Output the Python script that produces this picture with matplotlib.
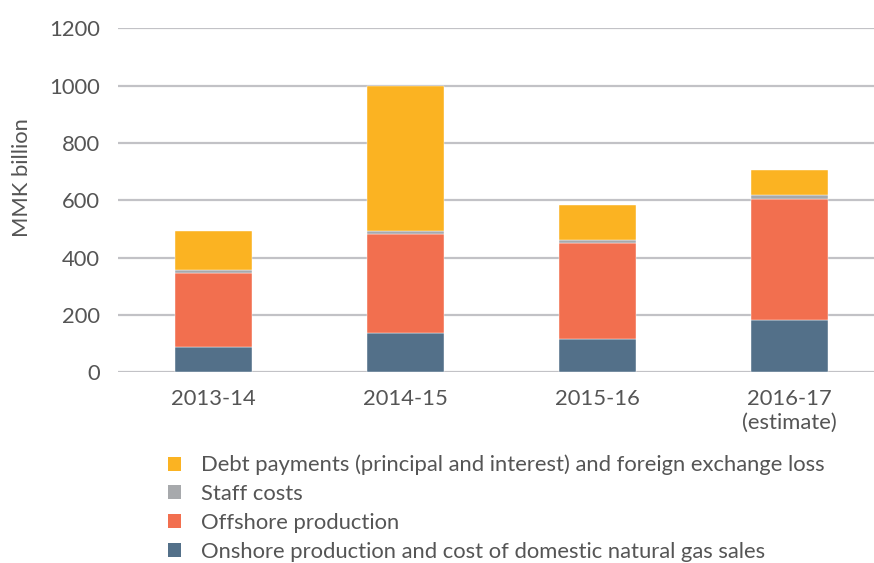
import matplotlib
matplotlib.use("Agg")
import matplotlib.pyplot as plt
from matplotlib.patches import Patch

plt.rcParams['font.family'] = ['Lato', 'DejaVu Sans']

years = ["2013-14", "2014-15", "2015-16", "2016-17\n(estimate)"]
onshore = [88, 138, 116, 182]
offshore = [260, 346, 334, 422]
staff = [9, 8, 13, 14]
debt = [135, 508, 121, 86]

series_names = [
    "Onshore production and cost of domestic natural gas sales",
    "Offshore production",
    "Staff costs",
    "Debt payments (principal and interest) and foreign exchange loss",
]
series_colors = ["#537089", "#F26F4F", "#A7A9AC", "#FBB322"]
text_color = "#555555"
fs = 15.8

fig = plt.figure(figsize=(8.74, 5.63), dpi=100)
ax = fig.add_axes([0.135, 0.3384, 0.865, 0.6116])

x = list(range(len(years)))
bottom = [0] * len(years)
for vals, color in zip([onshore, offshore, staff, debt], series_colors):
    ax.bar(x, vals, width=0.4, bottom=bottom, color=color,
           edgecolor="white", linewidth=0.3, zorder=3)
    bottom = [b + v for b, v in zip(bottom, vals)]

ax.set_xlim(-0.495, 3.44)
ax.set_ylim(0, 1200)
ax.set_yticks(range(0, 1201, 200))
ax.set_xticks(x)
ax.set_xticklabels(years, linespacing=1.25)
ax.yaxis.grid(True, color="#C2C2C6", linewidth=1.6, zorder=0)
ax.set_axisbelow(True)
for s in ax.spines.values():
    s.set_visible(False)
ax.tick_params(axis="both", length=0, labelsize=fs, colors=text_color)
ax.tick_params(axis="y", pad=13)
ax.tick_params(axis="x", pad=12)

fig.text(22 / 874, 1 - 178 / 563, "MMK billion", rotation=90, ha="center",
         va="center", fontsize=fs, color=text_color)

handles = [Patch(facecolor=c, edgecolor="none") for c in series_colors][::-1]
fig.legend(handles, series_names[::-1], loc="upper left",
           bbox_to_anchor=(159 / 874, 1 - 446 / 563), frameon=False,
           fontsize=fs, labelcolor=text_color, handlelength=0.6,
           handleheight=0.6, handletextpad=0.9, labelspacing=0.4,
           borderaxespad=0)

fig.savefig("out.png", dpi=100)
